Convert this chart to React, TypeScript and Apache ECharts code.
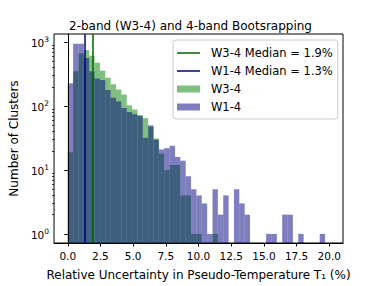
import React, { useEffect, useRef } from 'react';
import * as echarts from 'echarts';

// Histogram bins (shared): left edge of bin k = binStart + k * binWidth
const binStart = 0;
const binWidth = 0.41;
// W1-4 (4-band) counts per bin
const w14Counts = [229, 950, 950, 566, 351, 272, 257, 180, 136, 118, 94, 81, 75, 70, 32, 50, 30, 21, 22, 24, 16, 14, 8, 5, 4, 3, 1, 5, 2, 4, 0, 5, 3, 2, 0, 0, 0, 1, 1, 0, 2, 2, 0, 1, 0, 0, 0, 1];
// W3-4 (2-band) counts per bin
const w34Counts = [19, 351, 672, 760, 617, 477, 358, 279, 221, 183, 152, 103, 89, 73, 65, 48, 31, 18, 10, 12, 12, 4, 4, 1, 1, 0, 0, 1];
const medianW34 = 1.9;
const medianW14 = 1.3;
const xTicks = [0, 2.5, 5, 7.5, 10, 12.5, 15, 17.5, 20];
const yMajorTicks = [1, 10, 100, 1000];
const yMinorTicks = [2, 3, 4, 5, 6, 7, 8, 9, 20, 30, 40, 50, 60, 70, 80, 90, 200, 300, 400, 500, 600, 700, 800, 900];

const X_MIN = -1.05;
const X_MAX = 21.05;
const Y_MIN = 0.72;
const Y_MAX = 1350;

const FONT = "'DejaVu Sans', sans-serif";
const GREEN_FILL = 'rgba(0,128,0,0.5)';
const NAVY_FILL = 'rgba(0,0,128,0.5)';
const GREEN_LINE = '#006400';
const NAVY_LINE = '#000080';
const LINE_ICON = 'path://M0 0H46V3H0Z';

const toHist = (counts: number[]) =>
  counts
    .map((c, k) => [binStart + k * binWidth, binStart + (k + 1) * binWidth, c])
    .filter((d) => d[2] > 0);

const makeRender = (fill: string) => (params: any, api: any) => {
  const p0 = api.coord([api.value(0), api.value(2)]);
  const p1 = api.coord([api.value(1), Y_MIN]);
  return {
    type: 'rect',
    shape: { x: p0[0], y: p0[1], width: p1[0] - p0[0], height: p1[1] - p0[1] },
    style: { fill },
  };
};

export default function App() {
  const ref = useRef<HTMLDivElement>(null);
  useEffect(() => {
    if (!ref.current) return;
    const chart = echarts.init(ref.current, undefined, { renderer: 'svg' });
    chart.setOption({
      animation: false,
      backgroundColor: '#fff',
      title: {
        text: '2-band (W3-4) and 4-band Bootsrapping',
        left: 'center',
        top: 20,
        padding: [0, 0, 0, 9],
        textStyle: { fontFamily: FONT, fontSize: 12, fontWeight: 'normal', color: '#000' },
      },
      grid: {
        left: 47, right: 38, top: 34, bottom: 32,
        show: true, borderColor: '#000', borderWidth: 1, backgroundColor: 'transparent',
      },
      legend: {
        orient: 'vertical',
        left: 173,
        top: 40,
        itemWidth: 23,
        itemHeight: 7,
        itemGap: 6,
        padding: [7, 5, 6, 4],
        borderColor: '#cccccc',
        borderWidth: 1,
        borderRadius: 3,
        backgroundColor: 'rgba(255,255,255,0.8)',
        textStyle: { fontFamily: FONT, fontSize: 11.5, color: '#000', padding: [0, 0, 0, 6] },
        data: [
          { name: 'W3-4 Median = 1.9%', icon: LINE_ICON },
          { name: 'W1-4 Median = 1.3%', icon: LINE_ICON },
          { name: 'W3-4', icon: 'rect' },
          { name: 'W1-4', icon: 'rect' },
        ],
      },
      xAxis: {
        type: 'value',
        min: X_MIN,
        max: X_MAX,
        z: 5,
        name: 'Relative Uncertainty in Pseudo-Temperature T₁ (%)',
        nameLocation: 'middle',
        nameGap: 26,
        nameTextStyle: { fontFamily: FONT, fontSize: 12, color: '#000' },
        axisLine: { show: true, lineStyle: { color: '#000', width: 1 } },
        axisTick: { show: true, length: 3.5, customValues: xTicks, lineStyle: { color: '#000' } },
        axisLabel: {
          fontFamily: FONT, fontSize: 10.5, color: '#000',
          margin: 7, customValues: xTicks, formatter: (v: number) => v.toFixed(1),
        },
        splitLine: { show: false },
      },
      yAxis: [
        {
          type: 'log',
          logBase: 10,
          min: Y_MIN,
          max: Y_MAX,
          z: 5,
          name: 'Number of Clusters',
          nameLocation: 'middle',
          nameGap: 22,
          nameTextStyle: { fontFamily: FONT, fontSize: 12, color: '#000' },
          axisLine: { show: true, lineStyle: { color: '#000', width: 1 } },
          axisTick: { show: true, length: 3.5, customValues: yMajorTicks, lineStyle: { color: '#000' } },
          axisLabel: {
            margin: 5,
            customValues: yMajorTicks,
            formatter: (v: number) => `{b|10}{s|${Math.round(Math.log10(v))}}`,
            rich: {
              b: { fontFamily: FONT, fontSize: 10.5, color: '#000', verticalAlign: 'bottom' },
              s: { fontFamily: FONT, fontSize: 7.5, color: '#000', verticalAlign: 'bottom', padding: [0, 0, 5, 0] },
            },
          },
          splitLine: { show: false },
          minorTick: { show: false },
        },
        {
          type: 'log',
          logBase: 10,
          min: Y_MIN,
          max: Y_MAX,
          position: 'left',
          z: 5,
          axisLine: { show: false },
          axisTick: { show: true, length: 2, customValues: yMinorTicks, lineStyle: { color: '#000', width: 0.8 } },
          axisLabel: { show: false },
          splitLine: { show: false },
        },
      ],
      series: [
        {
          type: 'custom',
          name: 'W3-4',
          color: GREEN_FILL,
          itemStyle: { color: GREEN_FILL },
          renderItem: makeRender(GREEN_FILL),
          encode: { x: [0, 1], y: 2 },
          data: toHist(w34Counts),
          z: 2,
        },
        {
          type: 'custom',
          name: 'W1-4',
          color: NAVY_FILL,
          itemStyle: { color: NAVY_FILL },
          renderItem: makeRender(NAVY_FILL),
          encode: { x: [0, 1], y: 2 },
          data: toHist(w14Counts),
          z: 2,
        },
        {
          type: 'line',
          name: 'W3-4 Median = 1.9%',
          data: [],
          symbol: 'none',
          color: GREEN_LINE,
          itemStyle: { color: GREEN_LINE },
          lineStyle: { color: GREEN_LINE, width: 1.5 },
          z: 4,
          markLine: {
            symbol: ['none', 'none'],
            silent: true,
            label: { show: false },
            lineStyle: { color: GREEN_LINE, width: 1.5, type: 'solid' },
            data: [{ xAxis: medianW34 }],
          },
        },
        {
          type: 'line',
          name: 'W1-4 Median = 1.3%',
          data: [],
          symbol: 'none',
          color: NAVY_LINE,
          itemStyle: { color: NAVY_LINE },
          lineStyle: { color: NAVY_LINE, width: 1.5 },
          z: 4,
          markLine: {
            symbol: ['none', 'none'],
            silent: true,
            label: { show: false },
            lineStyle: { color: NAVY_LINE, width: 1.5, type: 'solid' },
            data: [{ xAxis: medianW14 }],
          },
        },
      ],
    });
    return () => chart.dispose();
  }, []);
  return (
    <div
      ref={ref}
      style={{ position: 'fixed', left: 0, top: 0, width: 381, height: 286, background: '#fff' }}
    />
  );
}
